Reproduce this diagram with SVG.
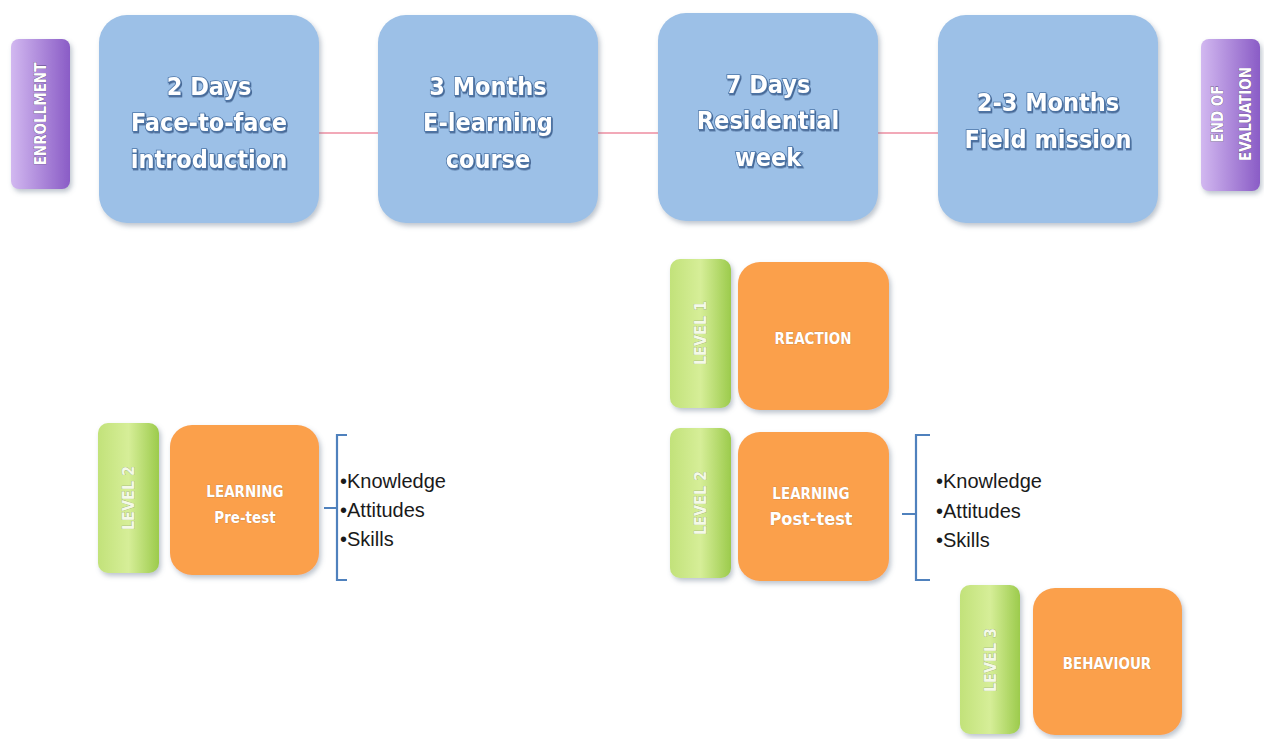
<svg xmlns="http://www.w3.org/2000/svg" width="1264" height="739" viewBox="0 0 1264 739">
<defs>
  <linearGradient id="gPurple" x1="0" y1="0" x2="1" y2="0">
    <stop offset="0" stop-color="#d2b8f0"/>
    <stop offset="1" stop-color="#8a5cc6"/>
  </linearGradient>
  <linearGradient id="gGreen" x1="0" y1="0" x2="1" y2="0">
    <stop offset="0" stop-color="#c2e27a"/>
    <stop offset="0.5" stop-color="#d6ee98"/>
    <stop offset="1" stop-color="#9ccb4c"/>
  </linearGradient>
  <filter id="sh" x="-10%" y="-10%" width="125%" height="125%">
    <feDropShadow dx="2" dy="3" stdDeviation="2.5" flood-color="#6f7f92" flood-opacity="0.45"/>
  </filter>
  <filter id="tsh" x="-10%" y="-20%" width="130%" height="150%">
    <feDropShadow dx="1" dy="1.5" stdDeviation="0.6" flood-color="#3d5f8c" flood-opacity="0.9"/>
  </filter>
</defs>
<style>
  .blue { fill: #9cc0e7; filter: url(#sh); }
  .purple { fill: url(#gPurple); filter: url(#sh); }
  .green { fill: url(#gGreen); filter: url(#sh); }
  .orange { fill: #fba04c; filter: url(#sh); }
  .bt { font-family: "DejaVu Sans Condensed", "Open Sans", sans-serif; font-weight: bold; font-size: 25px; fill: #ffffff; stroke: #4d76a8; stroke-width: 1.6px; paint-order: stroke; text-anchor: middle; filter: url(#tsh); }
  .pt { font-family: "DejaVu Sans Condensed", "Open Sans", sans-serif; font-weight: bold; font-size: 15px; fill: #ffffff; stroke: #5a4a78; stroke-width: 0.6px; paint-order: stroke; text-anchor: middle; }
  .lt { font-family: "DejaVu Sans Condensed", "Open Sans", sans-serif; font-weight: bold; font-size: 16px; fill: #f4f9e8; stroke: #8a9a70; stroke-width: 0.5px; paint-order: stroke; text-anchor: middle; }
  .ot { font-family: "DejaVu Sans Condensed", "Open Sans", sans-serif; font-weight: bold; font-size: 15px; fill: #ffffff; stroke: #c07a40; stroke-width: 0.5px; paint-order: stroke; text-anchor: middle; }
  .ot2 { font-family: "DejaVu Sans Condensed", "Open Sans", sans-serif; font-weight: bold; font-size: 18px; fill: #ffffff; stroke: #c07a40; stroke-width: 0.5px; paint-order: stroke; text-anchor: middle; }
  .list { font-family: "Liberation Sans", Arial, sans-serif; font-size: 20px; fill: #1a1a1a; }
  .conn { stroke: #f2a9b8; stroke-width: 2; fill: none; }
  .brace { stroke: #4f81bd; stroke-width: 2.2; fill: none; }
</style>

<g id="connectors">
  <line class="conn" x1="318" y1="133" x2="380" y2="133"/>
  <line class="conn" x1="597" y1="133" x2="660" y2="133"/>
  <line class="conn" x1="877" y1="133" x2="940" y2="133"/>
</g>

<g id="enrollment">
  <rect class="purple" x="11" y="39" width="59" height="150" rx="8"/>
  <text class="pt" transform="translate(46,114) rotate(-90)">ENROLLMENT</text>
</g>

<g id="box-2days">
  <rect class="blue" x="99" y="15" width="220" height="208" rx="28"/>
  <text class="bt" x="209" y="95">2 Days</text>
  <text class="bt" x="209" y="131">Face-to-face</text>
  <text class="bt" x="209" y="168">introduction</text>
</g>

<g id="box-3months">
  <rect class="blue" x="378" y="15" width="220" height="208" rx="28"/>
  <text class="bt" x="488" y="95">3 Months</text>
  <text class="bt" x="488" y="131">E-learning</text>
  <text class="bt" x="488" y="168">course</text>
</g>

<g id="box-7days">
  <rect class="blue" x="658" y="13" width="220" height="208" rx="28"/>
  <text class="bt" x="768" y="93">7 Days</text>
  <text class="bt" x="768" y="129">Residential</text>
  <text class="bt" x="768" y="166">week</text>
</g>

<g id="box-field">
  <rect class="blue" x="938" y="15" width="220" height="208" rx="28"/>
  <text class="bt" x="1048" y="111">2-3 Months</text>
  <text class="bt" x="1048" y="148">Field mission</text>
</g>

<g id="end-evaluation">
  <rect class="purple" x="1201" y="39" width="59" height="152" rx="8"/>
  <text class="pt" transform="translate(1223,114) rotate(-90)">END OF</text>
  <text class="pt" transform="translate(1251,114) rotate(-90)">EVALUATION</text>
</g>

<g id="level1">
  <rect class="green" x="670" y="259" width="61" height="149" rx="10"/>
  <text class="lt" transform="translate(706,333) rotate(-90)">LEVEL 1</text>
</g>
<g id="reaction">
  <rect class="orange" x="738" y="262" width="151" height="148" rx="22"/>
  <text class="ot" x="813" y="344">REACTION</text>
</g>

<g id="level2-left">
  <rect class="green" x="98" y="423" width="61" height="150" rx="10"/>
  <text class="lt" transform="translate(134,498) rotate(-90)">LEVEL 2</text>
</g>
<g id="learning-pre">
  <rect class="orange" x="170" y="425" width="149" height="150" rx="22"/>
  <text class="ot" x="245" y="497">LEARNING</text>
  <text class="ot" x="245" y="523">Pre-test</text>
</g>
<g id="list-left">
  <path class="brace" d="M347 435 H337 V580 H347 M337 508 H324"/>
  <text class="list" x="340" y="488">•Knowledge</text>
  <text class="list" x="340" y="517">•Attitudes</text>
  <text class="list" x="340" y="546">•Skills</text>
</g>

<g id="level2-right">
  <rect class="green" x="670" y="428" width="61" height="150" rx="10"/>
  <text class="lt" transform="translate(706,503) rotate(-90)">LEVEL 2</text>
</g>
<g id="learning-post">
  <rect class="orange" x="738" y="432" width="151" height="149" rx="22"/>
  <text class="ot" x="811" y="499">LEARNING</text>
  <text class="ot2" x="811" y="525">Post-test</text>
</g>
<g id="list-right">
  <path class="brace" d="M930 435 H916 V580 H930 M916 514 H902"/>
  <text class="list" x="936" y="488">•Knowledge</text>
  <text class="list" x="936" y="518">•Attitudes</text>
  <text class="list" x="936" y="547">•Skills</text>
</g>

<g id="level3">
  <rect class="green" x="960" y="585" width="60" height="149" rx="10"/>
  <text class="lt" transform="translate(996,660) rotate(-90)">LEVEL 3</text>
</g>
<g id="behaviour">
  <rect class="orange" x="1033" y="588" width="149" height="147" rx="22"/>
  <text class="ot" x="1107" y="669">BEHAVIOUR</text>
</g>
</svg>
